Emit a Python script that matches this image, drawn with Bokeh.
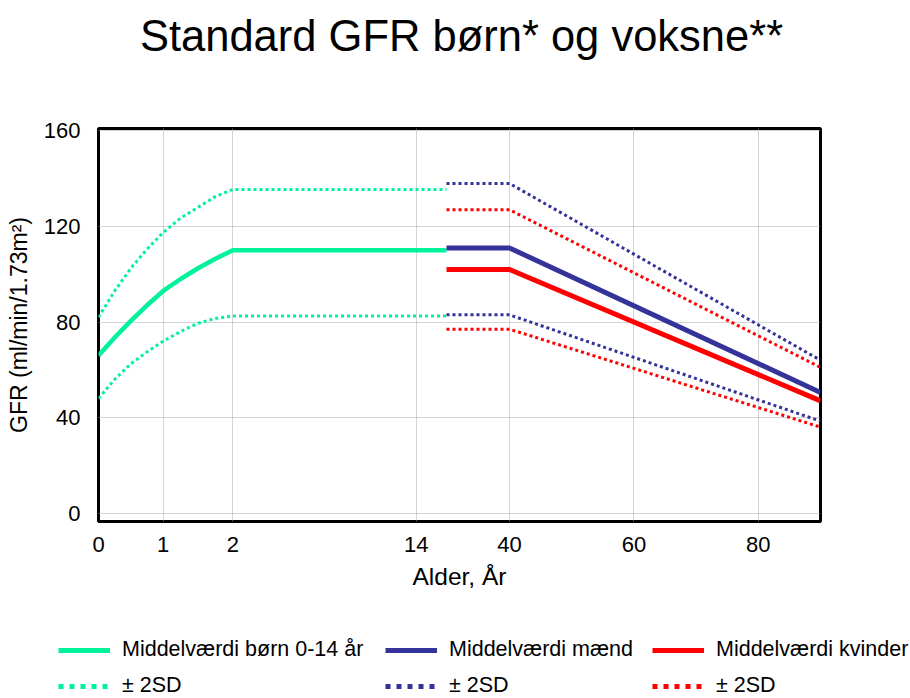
import numpy as np
from bokeh.plotting import figure
from bokeh.models import Legend, LegendItem, FixedTicker, Range1d
from bokeh.core.properties import value
from bokeh.embed import file_html
from bokeh.resources import INLINE

# ---- data ---------------------------------------------------------------
# Broken age axis: breakpoints (age -> axis position units)
axis_ages = [0, 1, 2, 14, 18, 40, 90]
axis_pos = [0, 64.7, 134.3, 317.7, 348, 411, 722]

tick_ages = [0, 1, 2, 14, 40, 60, 80]
y_ticks = [0, 40, 80, 120, 160]

child_age = [0, 0.25, 0.5, 0.75, 1, 1.25, 1.5, 1.75, 2, 18]
child_mean = [66, 73.5, 80.5, 87, 93, 98, 102.5, 106.5, 110, 110]
child_upper = [82, 93, 102.5, 110.5, 117.5, 123.5, 128, 132.5, 135.5, 135.5]
child_lower = [48, 56, 62.5, 67.5, 72, 76, 79.5, 81.5, 82.5, 82.5]

adult_age = [18, 40, 90]
men_mean = [111, 111, 50.5]
men_upper = [138, 138, 64]
men_lower = [83, 83, 38.5]
women_mean = [102, 102, 47]
women_upper = [127, 127, 61]
women_lower = [77, 77, 36]

title_text = ["Standard GFR børn* og voksne**"]
labels_row1 = ["Middelværdi børn 0-14 år", "Middelværdi mænd", "Middelværdi kvinder"]
label_sd = "± 2SD"

GREEN = "#00F29A"
BLUE = "#333399"
RED = "#FF0000"
FONT = "Liberation Sans"
W = 910


def ax(a):
    return np.interp(a, axis_ages, axis_pos)


# ---- title strip ---------------------------------------------------------
tp = figure(width=W, height=78, output_backend="svg", toolbar_location=None,
            x_range=Range1d(0, 1), y_range=Range1d(0, 1),
            x_axis_location=None, y_axis_location=None, min_border=0)
tp.grid.visible = False
tp.outline_line_color = None
tp.text(x=[0.5066], y=[0.546], text=title_text, text_font=value(FONT),
        text_font_size="43.5px", text_align="center", text_baseline="middle",
        text_color="#000000")

# ---- main chart -------------------------------------------------------------
p = figure(width=W, height=522, output_backend="svg", toolbar_location=None,
           x_range=Range1d(0, 722), y_range=Range1d(-3.5, 161),
           min_border_left=98, min_border_right=90, min_border_top=50,
           min_border_bottom=79)
p.title.visible = False

p.line(ax(child_age), child_mean, line_color=GREEN, line_width=4.5)
p.line(ax(child_age), child_upper, line_color=GREEN, line_width=3, line_dash="3 3")
p.line(ax(child_age), child_lower, line_color=GREEN, line_width=3, line_dash="3 3")

p.line(ax(adult_age), men_upper, line_color=BLUE, line_width=3, line_dash="3 3")
p.line(ax(adult_age), men_lower, line_color=BLUE, line_width=3, line_dash="3 3")
p.line(ax(adult_age), women_upper, line_color=RED, line_width=3, line_dash="3 3")
p.line(ax(adult_age), women_lower, line_color=RED, line_width=3, line_dash="3 3")
p.line(ax(adult_age), men_mean, line_color=BLUE, line_width=5)
p.line(ax(adult_age), women_mean, line_color=RED, line_width=5)

tick_pos = [float(v) for v in ax(tick_ages)]
p.xaxis.ticker = FixedTicker(ticks=tick_pos)
p.xaxis.major_label_overrides = {pos: str(a) for pos, a in zip(tick_pos, tick_ages)}
p.yaxis.ticker = FixedTicker(ticks=y_ticks)
p.xaxis.axis_label = "Alder, År"
p.yaxis.axis_label = "GFR (ml/min/1.73m²)"
for a in (p.xaxis, p.yaxis):
    a.axis_line_color = None
    a.major_tick_line_color = None
    a.minor_tick_line_color = None
    a.major_label_text_font = FONT
    a.major_label_text_font_size = "22px"
    a.major_label_text_color = "#000000"
    a.axis_label_text_font = FONT
    a.axis_label_text_font_style = "normal"
    a.axis_label_text_color = "#000000"
p.xaxis.axis_label_text_font_size = "24.5px"
p.yaxis.axis_label_text_font_size = "23px"
p.xaxis.major_label_standoff = 9
p.xaxis.axis_label_standoff = 8
p.yaxis.major_label_standoff = 12
p.yaxis.axis_label_standoff = 9

p.grid.grid_line_color = "#a8a8a8"
p.grid.grid_line_dash = "1 1"
p.grid.grid_line_width = 1

p.outline_line_color = "#000000"
p.outline_line_width = 3

# ---- legend strip: 3 columns x 2 rows ---------------------------------------
lp = figure(width=W, height=98, output_backend="svg", toolbar_location=None,
            x_range=Range1d(0, 1), y_range=Range1d(0, 1),
            x_axis_location=None, y_axis_location=None, min_border=0)
lp.grid.visible = False
lp.outline_line_color = None

colors = [GREEN, BLUE, RED]
col_x = [58, 385, 652]
for i, c in enumerate(colors):
    # legend-only renderers, kept outside the visible range
    solid = lp.line([-2, -1], [-2, -1], line_color=c, line_width=5)
    dots = lp.line([-2, -1], [-2, -1], line_color=c, line_width=5, line_dash="5 6")
    lg = Legend(items=[LegendItem(label=labels_row1[i], renderers=[solid]),
                       LegendItem(label=label_sd, renderers=[dots])],
                location=(col_x[i], 0), orientation="vertical",
                glyph_width=52, glyph_height=20, label_standoff=12,
                label_height=20, spacing=11, padding=0, margin=0,
                label_text_font=FONT, label_text_font_size="21.5px",
                label_text_color="#000000",
                background_fill_alpha=0, border_line_alpha=0)
    lp.add_layout(lg, "center")

open("out.html", "w").write(file_html([tp, p, lp], INLINE))
